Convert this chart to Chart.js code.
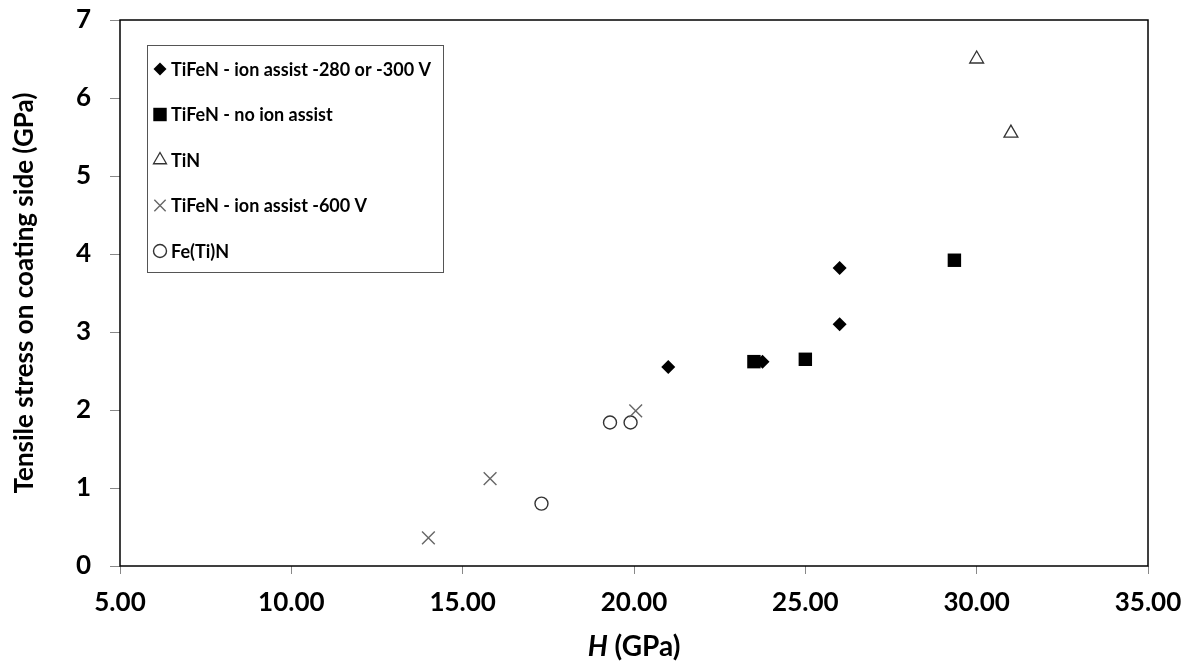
<!DOCTYPE html>
<html>
<head>
<meta charset="utf-8">
<script src="https://cdn.jsdelivr.net/npm/chart.js@4/dist/chart.umd.min.js"></script>
<style>
  html, body { margin: 0; padding: 0; background: #fff; }
  #wrap { width: 1197px; height: 668px; position: relative; }
</style>
</head>
<body>
<div id="wrap"><canvas id="myChart"></canvas></div>
<script>
// values (H in GPa, stress in GPa)
const ion300X = [21.0, 23.75, 26.0, 26.0];
const ion300Y = [2.55, 2.62, 3.82, 3.10];
const noIonX = [23.5, 25.0, 29.35];
const noIonY = [2.62, 2.65, 3.92];
const tinX = [30.0, 31.0];
const tinY = [6.5, 5.55];
const ion600X = [14.0, 15.8, 20.05];
const ion600Y = [0.36, 1.12, 1.99];
const fetinX = [17.3, 19.3, 19.9];
const fetinY = [0.8, 1.84, 1.84];

const seriesLabels = [
  'TiFeN - ion assist -280 or -300 V',
  'TiFeN - no ion assist',
  'TiN',
  'TiFeN - ion assist -600 V',
  'Fe(Ti)N'
];
const xTitleItalic = 'H';
const xTitleRest = ' (GPa)';
const yTitle = 'Tensile stress on coating side (GPa)';

const FONT = 'Lato, "Open Sans", sans-serif';

function pts(xs, ys) {
  return xs.map((x, i) => ({ x: x, y: ys[i] }));
}

const data = {
  datasets: [{
    label: seriesLabels[0],
    data: pts(ion300X, ion300Y),
    pointStyle: 'rectRot',
    pointRadius: 7,
    backgroundColor: '#000',
    borderColor: '#000',
    borderWidth: 0,
    legendRadius: 6.5,
  },{
    label: seriesLabels[1],
    data: pts(noIonX, noIonY),
    pointStyle: 'rect',
    pointRadius: 9.5,
    backgroundColor: '#000',
    borderColor: '#000',
    borderWidth: 0,
    legendRadius: 9.5,
  },{
    label: seriesLabels[2],
    data: pts(tinX, tinY),
    pointStyle: 'triangle',
    pointRadius: 8,
    backgroundColor: 'rgba(255,255,255,0)',
    borderColor: '#333',
    borderWidth: 1.3,
    legendRadius: 7.5,
  },{
    label: seriesLabels[3],
    data: pts(ion600X, ion600Y),
    pointStyle: 'crossRot',
    pointRadius: 9,
    backgroundColor: 'rgba(255,255,255,0)',
    borderColor: '#666',
    borderWidth: 1.4,
    legendRadius: 8,
  },{
    label: seriesLabels[4],
    data: pts(fetinX, fetinY),
    pointStyle: 'circle',
    pointRadius: 6.5,
    backgroundColor: 'rgba(255,255,255,0)',
    borderColor: '#333',
    borderWidth: 1.4,
    legendRadius: 6.5,
  }]
};

// plot frame, inner legend and the x title with its italic H
const framePlugin = {
  id: 'framePlugin',
  afterDatasetsDraw(chart) {
    const { ctx, chartArea: a } = chart;
    ctx.save();
    ctx.strokeStyle = '#000';
    ctx.lineWidth = 1.5;
    ctx.strokeRect(a.left, a.top, a.right - a.left, a.bottom - a.top);

    const lx = a.left + 27, ly = a.top + 25, lw = 296, lh = 227;
    ctx.fillStyle = '#fff';
    ctx.fillRect(lx, ly, lw, lh);
    ctx.strokeStyle = '#555';
    ctx.lineWidth = 1;
    ctx.strokeRect(lx + 0.5, ly + 0.5, lw, lh);

    chart.data.datasets.forEach((ds, i) => {
      const y = ly + 24 + i * 45.5;
      ctx.fillStyle = ds.backgroundColor;
      ctx.strokeStyle = ds.borderColor;
      ctx.lineWidth = ds.borderWidth;
      Chart.helpers.drawPoint(ctx, {
        pointStyle: ds.pointStyle,
        radius: ds.legendRadius,
        borderWidth: ds.borderWidth,
        rotation: 0
      }, lx + 13, y);
      ctx.fillStyle = '#000';
      ctx.font = 'bold 18px ' + FONT;
      ctx.textBaseline = 'middle';
      ctx.textAlign = 'left';
      ctx.fillText(ds.label, lx + 24, y + 1);
    });
    ctx.restore();
  },
  afterDraw(chart) {
    const { ctx, chartArea: a } = chart;
    ctx.save();
    ctx.fillStyle = '#000';
    ctx.textBaseline = 'middle';
    ctx.textAlign = 'left';
    const fItal = 'italic bold 28px ' + FONT;
    const fReg = 'bold 28px ' + FONT;
    ctx.font = fItal;
    const w1 = ctx.measureText(xTitleItalic).width;
    ctx.font = fReg;
    const w2 = ctx.measureText(xTitleRest).width;
    let x = (a.left + a.right) / 2 - (w1 + w2) / 2;
    ctx.font = fItal;
    ctx.fillText(xTitleItalic, x, 647);
    ctx.font = fReg;
    ctx.fillText(xTitleRest, x + w1, 647);
    ctx.restore();
  }
};

const config = {
  type: 'scatter',
  data: data,
  options: {
    responsive: true,
    maintainAspectRatio: false,
    animation: false,
    layout: { padding: { top: 20, right: 49, bottom: 0, left: 0 } },
    plugins: {
      legend: { display: false },
      tooltip: { enabled: false },
    },
    scales: {
      x: {
	type: 'linear',
	min: 5,
	max: 35,
	afterFit(scale) {
	  scale.height = 102;
	  scale.paddingLeft = 0;
	  scale.paddingRight = 0;
	},
	ticks: {
	  stepSize: 5,
	  callback: v => v.toFixed(2),
	  color: '#000',
	  font: { family: FONT, size: 26, weight: 'bold' },
	  padding: 13,
	  maxRotation: 0,
	},
	grid: { drawOnChartArea: false, drawTicks: true, tickLength: 8, color: '#888' },
	border: { display: false },
      },
      y: {
	type: 'linear',
	min: 0,
	max: 7,
	afterFit(scale) {
	  scale.width = 120;
	  scale.paddingTop = 0;
	  scale.paddingBottom = 0;
	},
	ticks: {
	  stepSize: 1,
	  color: '#000',
	  font: { family: FONT, size: 26, weight: 'bold' },
	  padding: 19,
	},
	title: {
	  display: true,
	  text: yTitle,
	  color: '#000',
	  font: { family: FONT, size: 26, weight: 'bold' },
	  padding: { top: 9, bottom: 20 },
	},
	grid: { drawOnChartArea: false, drawTicks: true, tickLength: 10, color: '#888' },
	border: { display: false },
      }
    }
  },
  plugins: [framePlugin]
};

const myChart = new Chart(
  document.getElementById('myChart'),
  config
);
</script>
</body>
</html>
